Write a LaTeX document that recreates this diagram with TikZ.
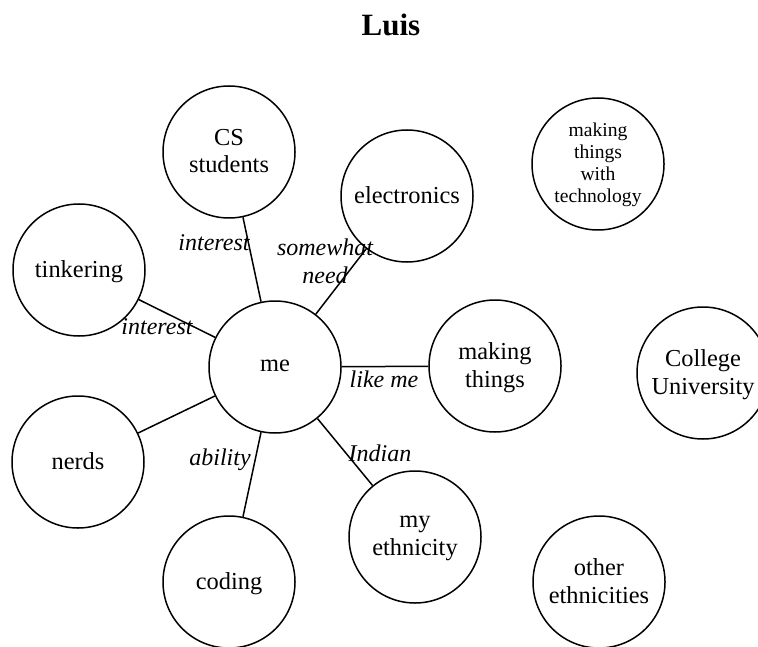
\documentclass[tikz,border=0pt]{standalone}
\usepackage{fontspec}
\setmainfont{Liberation Serif}

\begin{document}
\begin{tikzpicture}[
  x=0.5pt, y=-0.5pt,
  every node/.style={font=\fontsize{12.2}{13.8}\selectfont},
  topic/.style={draw, circle, line width=0.75pt, minimum size=66pt, inner sep=0pt, align=center,
    text depth=1pt},
  rel/.style={font=\fontsize{12}{13.8}\selectfont\itshape, inner sep=0pt, align=center},
  link/.style={line width=0.75pt},
]

\useasboundingbox (0,0) rectangle (758,646);
\clip (0,0) rectangle (758,646);
\node[font=\fontsize{15.5}{18}\selectfont\bfseries, anchor=base] (title) at (391,36) {Luis};

% centre and the topics linked to it
\node[topic] (me) at (275,367) {me};
\node[topic] (cs) at (229,152) {CS\\students};
\node[topic] (elec) at (407,196) {electronics};
\node[topic] (tinker) at (79,270) {tinkering};
\node[topic] (making) at (495,366) {making\\things};
\node[topic] (nerds) at (78,462) {nerds};
\node[topic] (coding) at (229,582) {coding};
\node[topic] (myeth) at (415,537) {my\\ethnicity};

% topics without links
\node[topic, font=\fontsize{9.8}{11}\selectfont] (tech) at (598,164) {making\\things\\with\\technology};
\node[topic] (college) at (703,373) {College\\University};
\node[topic] (othereth) at (599,582) {other\\ethnicities};

\draw[link] (me) -- (cs);
\draw[link] (me) -- (elec);
\draw[link] (me) -- (tinker);
\draw[link] (me) -- (making);
\draw[link] (me) -- (nerds);
\draw[link] (me) -- (coding);
\draw[link] (me) -- (myeth);

\node[rel] (l-cs) at (214,243) {interest};
\node[rel] (l-elec) at (325,261) {somewhat\\need};
\node[rel] (l-tinker) at (157,327) {interest};
\node[rel] (l-making) at (384,379) {like me};
\node[rel] (l-coding) at (220,460) {ability};
\node[rel] (l-myeth) at (380,453) {Indian};

\end{tikzpicture}
\end{document}
